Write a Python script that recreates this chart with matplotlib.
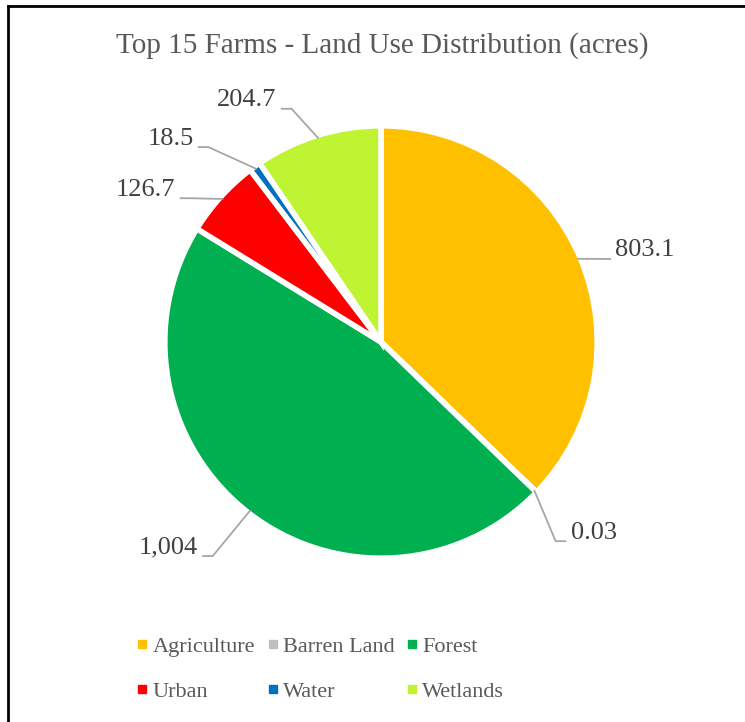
import numpy as np
import matplotlib.pyplot as plt
from matplotlib.lines import Line2D

categories = ["Agriculture", "Barren Land", "Forest", "Urban", "Water", "Wetlands"]
acres = [803.1, 0.03, 1004, 126.7, 18.5, 204.7]
value_labels = ["803.1", "0.03", "1,004", "126.7", "18.5", "204.7"]
colors = ["#FFC000", "#BFBFBF", "#00B050", "#FF0000", "#0070C0", "#BEF432"]

# label text anchors (data units, pie radius = 1) and side (+1 left-aligned, -1 right-aligned)
label_pos = [(1.10, 0.43), (0.89, -0.895), (-0.86, -0.965), (-0.965, 0.715),
             (-0.88, 0.955), (-0.49, 1.135)]
label_side = [1, 1, -1, -1, -1, -1]

plt.rcParams['font.family'] = ['Liberation Serif', 'DejaVu Serif']
text_color = "#595959"

W, H, dpi = 745, 722, 100
fig = plt.figure(figsize=(W / dpi, H / dpi), dpi=dpi)
ax = fig.add_axes([0, 0, 1, 1])

cx, cy, r = 381, 342, 213
wedges, _ = ax.pie(acres, colors=colors, startangle=90, counterclock=False,
                   radius=1.015, wedgeprops=dict(edgecolor="white", linewidth=4))
ax.set_xlim(-cx / r, (W - cx) / r)
ax.set_ylim(-(H - cy) / r, cy / r)
ax.set_aspect('auto')
ax.axis('off')

for w, lab, (tx, ty), side in zip(wedges, value_labels, label_pos, label_side):
    mid = np.deg2rad((w.theta1 + w.theta2) / 2)
    px, py = np.cos(mid), np.sin(mid)
    ly = ty - 0.04
    x_end = tx - side * 0.02
    x_elb = tx - side * 0.07
    ax.plot([px, x_elb, x_end], [py, ly, ly], color="#A6A6A6", lw=1.3,
            solid_capstyle="butt")
    ax.text(tx, ty, lab, fontsize=19, color="#404040",
            ha="left" if side > 0 else "right", va="center")

fig.text(0.513, 1 - 46 / H, "Top 15 Farms - Land Use Distribution (acres)",
         fontsize=21, color=text_color, ha="center", va="center")

# legend filled row by row (matplotlib fills columns first)
handles = [Line2D([], [], marker="s", linestyle="none", markersize=6,
                  markerfacecolor=c, markeredgecolor=c) for c in colors]
order = [0, 3, 1, 4, 2, 5]
fig.legend([handles[i] for i in order], [categories[i] for i in order],
           ncol=3, loc="center", bbox_to_anchor=(321 / W, 1 - 669.5 / H),
           frameon=False, fontsize=16, labelcolor=text_color,
           handlelength=0.4, handletextpad=0.25, columnspacing=0.6,
           labelspacing=1.1)

# outer border (top and left visible)
fig.add_artist(Line2D([8 / W, 8 / W], [0, 1 - 6 / H], color="black", lw=2,
                      transform=fig.transFigure))
fig.add_artist(Line2D([8 / W, 1], [1 - 6 / H, 1 - 6 / H], color="black", lw=2,
                      transform=fig.transFigure))

fig.savefig("out.png", dpi=dpi)
